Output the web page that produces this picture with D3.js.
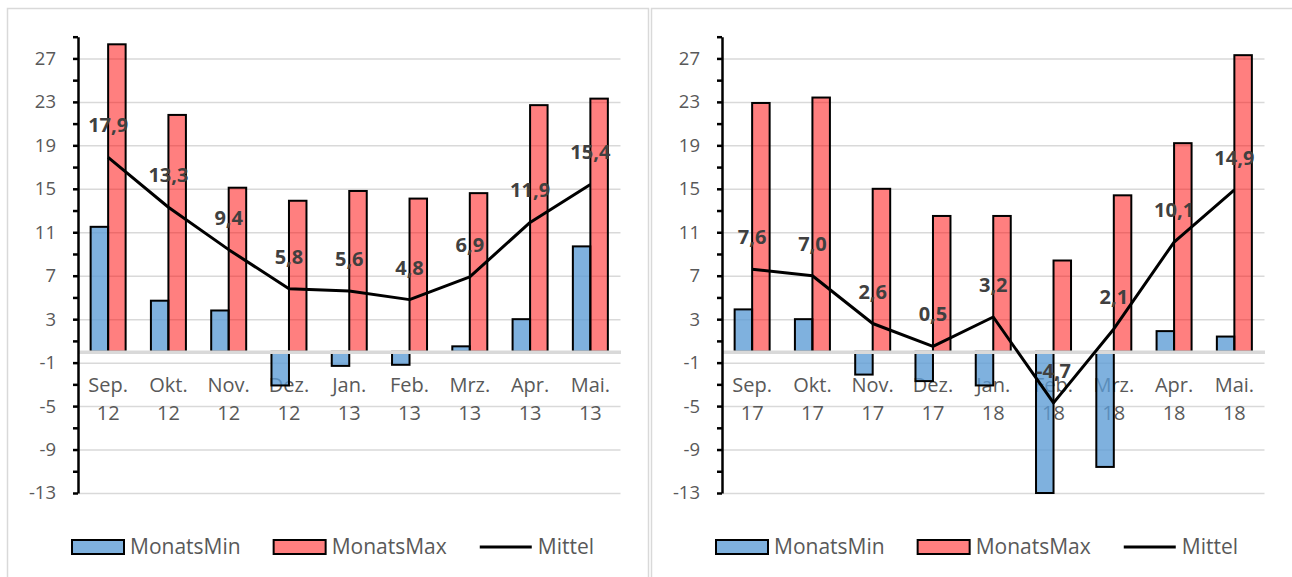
<!DOCTYPE html>
<html>
<head>
<meta charset="utf-8">
<script src="https://cdn.jsdelivr.net/npm/d3@7"></script>
<style>
  html, body { margin: 0; padding: 0; background: #ffffff; }
  svg { display: block; }
</style>
</head>
<body>
<svg id="chart" width="1292" height="577"></svg>
<script>
// ---------- DATA ----------
const categoriesLeft  = ["Sep. 12","Okt. 12","Nov. 12","Dez. 12","Jan. 13","Feb. 13","Mrz. 13","Apr. 13","Mai. 13"];
const minLeft  = [11.5, 4.7, 3.8, -3.1, -1.3, -1.2, 0.5, 3.0, 9.7];
const maxLeft  = [28.3, 21.8, 15.1, 13.9, 14.8, 14.1, 14.6, 22.7, 23.3];
const meanLeft = [17.9, 13.3, 9.4, 5.8, 5.6, 4.8, 6.9, 11.9, 15.4];

const categoriesRight = ["Sep. 17","Okt. 17","Nov. 17","Dez. 17","Jan. 18","Feb. 18","Mrz. 18","Apr. 18","Mai. 18"];
const minRight  = [3.9, 3.0, -2.1, -2.7, -3.1, -13.0, -10.6, 1.9, 1.4];
const maxRight  = [22.9, 23.4, 15.0, 12.5, 12.5, 8.4, 14.4, 19.2, 27.3];
const meanRight = [7.6, 7.0, 2.6, 0.5, 3.2, -4.7, 2.1, 10.1, 14.9];

const yTickLabels = [27, 23, 19, 15, 11, 7, 3, -1, -5, -9, -13];
const seriesNames = ["MonatsMin", "MonatsMax", "Mittel"];

// ---------- STYLE / LAYOUT ----------
const FONT = "'Open Sans', 'Noto Sans', sans-serif";
const minColor = "rgba(91,155,213,0.78)";
const maxColor = "rgba(255,0,0,0.5)";
const gridColor = "#d9d9d9";
const textColor = "#595959";
const labelColor = "#404040";

const locale = d3.formatLocale({decimal: ",", thousands: ".", grouping: [3], currency: ["", "€"], minus: "-"});
const fmt = locale.format(".1f");

const svg = d3.select("#chart");

// chart cards
svg.append("rect").attr("x", 7.5).attr("y", 8.5).attr("width", 641).attr("height", 620)
  .attr("fill", "none").attr("stroke", gridColor).attr("stroke-width", 1.5);
svg.append("rect").attr("x", 651.5).attr("y", 8.5).attr("width", 700).attr("height", 620)
  .attr("fill", "none").attr("stroke", gridColor).attr("stroke-width", 1.5);

function drawChart(offsetX, categories, mins, maxs, means) {
  const g = svg.append("g").attr("transform", `translate(${offsetX},0)`);
  const left = 78, right = 620.5, top = 36.7, bottom = 493;

  const y = d3.scaleLinear().domain([-13, 29]).range([bottom, top]);
  const x = d3.scaleBand().domain(categories).range([left, right]).paddingInner(0).paddingOuter(0);
  const barW = 17.5;
  const xs = d3.scaleBand().domain(["min", "max"]).range([-barW, barW]);

  // gridlines
  const grid = g.append("g").attr("transform", `translate(${left},0)`)
    .call(d3.axisLeft(y).tickValues(yTickLabels).tickSize(-(right - left)).tickFormat(""));
  grid.select(".domain").remove();
  grid.selectAll("line").attr("stroke", gridColor).attr("stroke-width", 1.5);

  // category labels (below the bars in stacking order)
  const xLab = g.append("g").attr("transform", `translate(0,${y(0)})`)
    .call(d3.axisBottom(x).tickSize(0).tickFormat(""));
  xLab.select(".domain").remove();
  xLab.selectAll(".tick").each(function(d) {
    const parts = d.split(" ");
    const t = d3.select(this).append("text")
      .attr("fill", textColor).attr("font-family", FONT).attr("font-size", 20)
      .attr("text-anchor", "middle");
    t.append("tspan").attr("x", 0).attr("y", 40).text(parts[0]);
    t.append("tspan").attr("x", 0).attr("y", 68).text(parts[1]);
  });

  // bars
  const rows = categories.map((c, i) => ({c, min: mins[i], max: maxs[i]}));
  const bars = g.append("g");
  bars.selectAll("rect.min").data(rows).join("rect").attr("class", "min")
    .attr("x", d => x(d.c) + x.bandwidth() / 2 + xs("min"))
    .attr("width", xs.bandwidth())
    .attr("y", d => y(Math.max(0, d.min)))
    .attr("height", d => Math.abs(y(d.min) - y(0)))
    .attr("fill", minColor).attr("stroke", "#000").attr("stroke-width", 2);
  bars.selectAll("rect.max").data(rows).join("rect").attr("class", "max")
    .attr("x", d => x(d.c) + x.bandwidth() / 2 + xs("max"))
    .attr("width", xs.bandwidth())
    .attr("y", d => y(Math.max(0, d.max)))
    .attr("height", d => Math.abs(y(d.max) - y(0)))
    .attr("fill", maxColor).attr("stroke", "#000").attr("stroke-width", 2);

  // zero (category) axis line
  const zero = g.append("g").attr("transform", `translate(0,${y(0)})`)
    .call(d3.axisBottom(x).tickSize(0).tickSizeOuter(0).tickFormat(""));
  zero.selectAll(".tick").remove();
  zero.select(".domain").attr("stroke", gridColor).attr("stroke-width", 3.5);

  // value axis
  const yTicks = d3.range(-13, 30, 2);
  const yAx = g.append("g").attr("transform", `translate(${left},0)`)
    .call(d3.axisLeft(y).tickValues(yTicks).tickSize(5).tickSizeOuter(0).tickPadding(17)
      .tickFormat(d => yTickLabels.includes(d) ? String(d) : ""));
  yAx.select(".domain").attr("stroke", "#000").attr("stroke-width", 2.5);
  yAx.selectAll("line").attr("stroke", "#000").attr("stroke-width", 2.5);
  yAx.selectAll("text").attr("fill", textColor).attr("font-family", FONT).attr("font-size", 18.5);

  // mean line
  const pts = categories.map((c, i) => ({c, v: means[i]}));
  const line = d3.line().x(d => x(d.c) + x.bandwidth() / 2).y(d => y(d.v));
  g.append("path").datum(pts).attr("d", line).attr("fill", "none")
    .attr("stroke", "#000").attr("stroke-width", 3).attr("stroke-linejoin", "round");

  // data labels
  g.append("g").selectAll("text").data(pts).join("text")
    .attr("x", d => x(d.c) + x.bandwidth() / 2)
    .attr("y", d => y(d.v) - 25)
    .attr("text-anchor", "middle")
    .attr("font-family", FONT).attr("font-size", 20).attr("font-weight", "bold")
    .attr("fill", labelColor)
    .text(d => fmt(d.v));

  // legend
  const leg = g.append("g");
  let lx = 72;
  const swW = 52, swTop = 540, swH = 14, legBase = 554;
  seriesNames.forEach((name, i) => {
    if (i < 2) {
      leg.append("rect").attr("x", lx).attr("y", swTop).attr("width", swW).attr("height", swH)
        .attr("fill", i === 0 ? minColor : maxColor).attr("stroke", "#000").attr("stroke-width", 2);
    } else {
      leg.append("line").attr("x1", lx).attr("x2", lx + swW).attr("y1", swTop + swH / 2).attr("y2", swTop + swH / 2)
        .attr("stroke", "#000").attr("stroke-width", 3);
    }
    const t = leg.append("text").attr("x", lx + swW + 6).attr("y", legBase)
      .attr("font-family", FONT).attr("font-size", 21).attr("fill", textColor).text(name);
    lx = lx + swW + 6 + t.node().getComputedTextLength() + 33;
  });
}

drawChart(0, categoriesLeft, minLeft, maxLeft, meanLeft);
drawChart(644, categoriesRight, minRight, maxRight, meanRight);
</script>
</body>
</html>
